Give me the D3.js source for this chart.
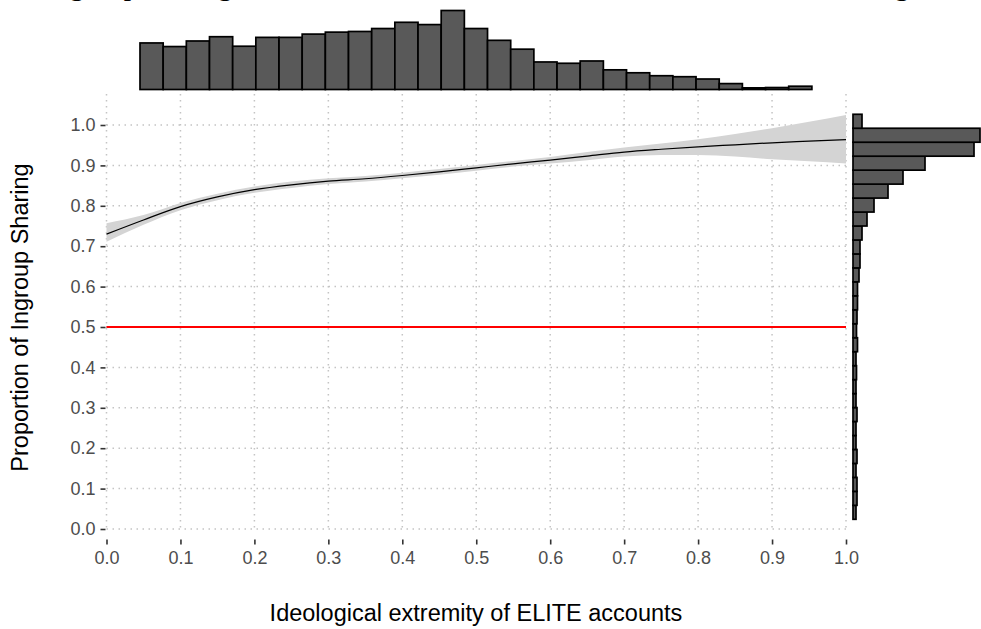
<!DOCTYPE html>
<html>
<head>
<meta charset="utf-8">
<script src="https://cdn.jsdelivr.net/npm/d3@7"></script>
<style>
  body { margin: 0; background: #fff; }
  svg { display: block; }
  .axis text { font-family: "Liberation Sans", Arial, sans-serif; font-size: 18px; fill: #4d4d4d; }
  .axis line { stroke: #333; stroke-width: 1.6; }
  .axis path { display: none; }
</style>
</head>
<body>
<script>
// tick values
const xTicks = [0, 0.1, 0.2, 0.3, 0.4, 0.5, 0.6, 0.7, 0.8, 0.9, 1.0];
const yTicks = [0, 0.1, 0.2, 0.3, 0.4, 0.5, 0.6, 0.7, 0.8, 0.9, 1.0];

// loess fit with its confidence band
const fitX     = [0, 0.05, 0.1, 0.15, 0.2, 0.25, 0.3, 0.35, 0.4, 0.45, 0.5, 0.55, 0.6, 0.65, 0.7, 0.75, 0.8, 0.85, 0.9, 0.95, 1.0];
const fitY     = [0.730, 0.765, 0.798, 0.822, 0.840, 0.852, 0.861, 0.867, 0.875, 0.884, 0.894, 0.904, 0.913, 0.923, 0.933, 0.940, 0.946, 0.951, 0.956, 0.960, 0.964];
const fitLower = [0.711, 0.753, 0.789, 0.814, 0.832, 0.844, 0.854, 0.860, 0.868, 0.877, 0.887, 0.897, 0.905, 0.913, 0.922, 0.926, 0.926, 0.922, 0.915, 0.910, 0.905];
const fitUpper = [0.757, 0.777, 0.807, 0.830, 0.848, 0.860, 0.868, 0.874, 0.882, 0.891, 0.901, 0.911, 0.921, 0.933, 0.944, 0.954, 0.965, 0.978, 0.992, 1.008, 1.025];

// marginal histogram of x (29 bins)
const topStart = 0.0453, topWidth = 0.03133;
const topCounts = [284, 262, 296, 322, 264, 318, 318, 338, 350, 354, 372, 410, 396, 482, 372,
                   300, 246, 168, 160, 174, 120, 102, 84, 78, 64, 36, 10, 12, 20];

// marginal histogram of y (29 bins, from bottom)
const rightStart = 0.024, rightWidth = 0.03457;
const rightCounts = [30, 40, 40, 30, 40, 30, 30, 40, 30, 30, 35, 30, 45, 35, 40, 45, 45,
                     60, 70, 70, 90, 140, 210, 350, 500, 720, 1210, 1270, 90];

const refLine = 0.5;

const W = 981, H = 629;
const svg = d3.select('body').append('svg').attr('width', W).attr('height', H);

const x = d3.scaleLinear().domain([0, 1]).range([106.5, 846]);
const y = d3.scaleLinear().domain([0, 1]).range([529, 125]);
const panelTop = 94, panelBottom = 531;

// cropped caption from the page above
svg.append('text')
  .attr('x', 45).attr('y', -5.5)
  .style('font-family', '"Liberation Serif", "Times New Roman", serif')
  .style('font-size', '29.5px')
  .text('Ingroup sharing rises as elite accounts turn more extreme and the ideological tilt rises');

// grid
const grid = svg.append('g')
  .attr('stroke', '#c4c4c4').attr('stroke-width', 1.5).attr('stroke-dasharray', '1.5 4.5');
grid.selectAll('.vx').data(xTicks).enter().append('line')
  .attr('x1', d => x(d)).attr('x2', d => x(d))
  .attr('y1', panelTop).attr('y2', panelBottom);
grid.selectAll('.hy').data(yTicks).enter().append('line')
  .attr('x1', x(0)).attr('x2', x(1))
  .attr('y1', d => y(d)).attr('y2', d => y(d));

// confidence band + fit
const band = d3.area()
  .x((d, i) => x(fitX[i]))
  .y0((d, i) => y(fitLower[i]))
  .y1((d, i) => y(fitUpper[i]))
  .curve(d3.curveMonotoneX);
svg.append('path').datum(fitX).attr('d', band).attr('fill', '#d4d4d4');

// reference line
svg.append('line')
  .attr('x1', x(0)).attr('x2', x(1))
  .attr('y1', y(refLine)).attr('y2', y(refLine))
  .attr('stroke', '#ff0000').attr('stroke-width', 2);

const line = d3.line()
  .x((d, i) => x(fitX[i]))
  .y((d, i) => y(fitY[i]))
  .curve(d3.curveMonotoneX);
svg.append('path').datum(fitX).attr('d', line)
  .attr('fill', 'none').attr('stroke', '#000').attr('stroke-width', 1.2);

// top histogram
const topY = d3.scaleLinear().domain([0, d3.max(topCounts)]).range([89.5, 10.5]);
svg.append('g').selectAll('rect').data(topCounts).enter().append('rect')
  .attr('x', (d, i) => x(topStart + i * topWidth))
  .attr('width', (d, i) => x(topStart + (i + 1) * topWidth) - x(topStart + i * topWidth))
  .attr('y', d => topY(d))
  .attr('height', d => topY(0) - topY(d))
  .attr('fill', '#595959').attr('stroke', '#000').attr('stroke-width', 1.7);

// right histogram
const rightX = d3.scaleLinear().domain([0, d3.max(rightCounts)]).range([853, 980]);
svg.append('g').selectAll('rect').data(rightCounts).enter().append('rect')
  .attr('x', rightX(0))
  .attr('width', d => rightX(d) - rightX(0))
  .attr('y', (d, i) => y(rightStart + (i + 1) * rightWidth))
  .attr('height', (d, i) => y(rightStart + i * rightWidth) - y(rightStart + (i + 1) * rightWidth))
  .attr('fill', '#595959').attr('stroke', '#000').attr('stroke-width', 1.7);

// axes
svg.append('g').attr('class', 'axis')
  .attr('transform', 'translate(0,539.5)')
  .call(d3.axisBottom(x).tickValues(xTicks).tickFormat(d3.format('.1f')).tickSize(5).tickPadding(6.5));

svg.append('g').attr('class', 'axis')
  .attr('transform', 'translate(105.5,0)')
  .call(d3.axisLeft(y).tickValues(yTicks).tickFormat(d3.format('.1f')).tickSize(5).tickPadding(5));

// axis titles
svg.append('text')
  .attr('x', 476).attr('y', 621)
  .attr('text-anchor', 'middle')
  .style('font-family', '"Liberation Sans", Arial, sans-serif')
  .style('font-size', '23.5px')
  .text('Ideological extremity of ELITE accounts');

svg.append('text')
  .attr('transform', 'translate(28,317.5) rotate(-90)')
  .attr('text-anchor', 'middle')
  .style('font-family', '"Liberation Sans", Arial, sans-serif')
  .style('font-size', '23.5px')
  .text('Proportion of Ingroup Sharing');
</script>
</body>
</html>
